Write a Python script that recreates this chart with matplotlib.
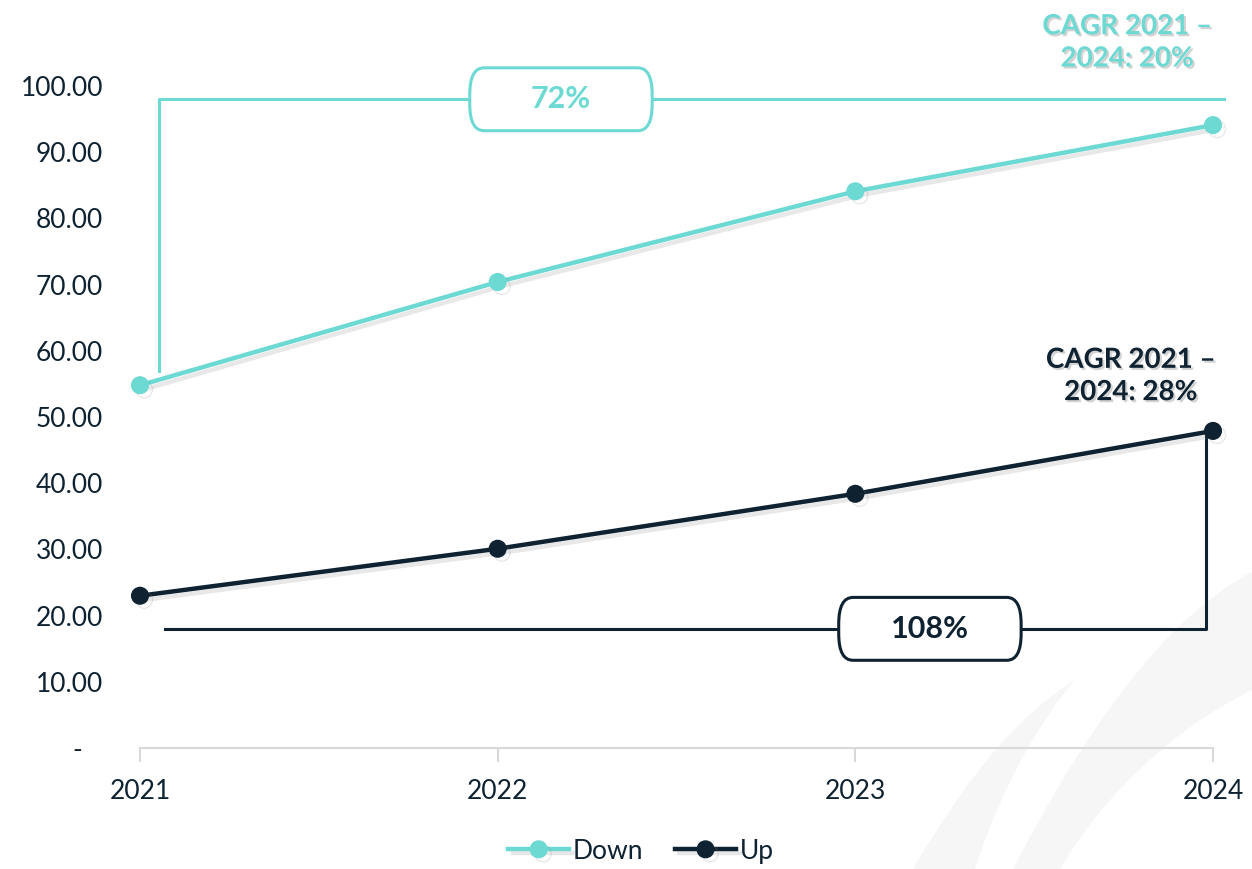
import numpy as np
import matplotlib.pyplot as plt
import matplotlib.patheffects as pe
from matplotlib.patches import FancyBboxPatch, PathPatch
from matplotlib.path import Path

plt.rcParams['font.family'] = ['Lato', 'DejaVu Sans']

years = ['2021', '2022', '2023', '2024']
down = [54.8, 70.4, 84.1, 94.1]
up = [23.0, 30.1, 38.4, 47.9]
yticks = [0, 10, 20, 30, 40, 50, 60, 70, 80, 90, 100]
ytick_labels = ['-   '] + ['%.2f' % v for v in yticks[1:]]

teal = '#6CD9D3'
navy = '#0E2231'
W, H = 1252, 869

fig = plt.figure(figsize=(W / 100, H / 100), dpi=100)

# faint background swooshes (lower right)
bg = fig.add_axes([0, 0, 1, 1], zorder=0)
bg.set_xlim(0, W)
bg.set_ylim(H, 0)
bg.axis('off')
C = Path.CURVE4
band1 = Path([(913, 869), (960, 790), (1010, 720), (1075, 680),
              (1040, 720), (1000, 790), (975, 869), (913, 869)],
             [Path.MOVETO, C, C, C, C, C, C, Path.CLOSEPOLY])
band2 = Path([(1013, 869), (1080, 740), (1160, 620), (1252, 572),
              (1252, 690), (1170, 730), (1100, 800), (1060, 869), (1013, 869)],
             [Path.MOVETO, C, C, C, Path.LINETO, C, C, C, Path.CLOSEPOLY])
bg.add_patch(PathPatch(band1, facecolor='#F6F6F6', edgecolor='none'))
bg.add_patch(PathPatch(band2, facecolor='#F6F6F6', edgecolor='none'))

ax = fig.add_axes([140 / W, (H - 748) / H, (1213 - 140) / W, 741.4 / H], zorder=1)
ax.patch.set_alpha(0)
x = np.arange(len(years))

shadow = [pe.SimpleLineShadow(offset=(3, -3), shadow_color='gray', alpha=0.18), pe.Normal()]
ax.plot(x, down, color=teal, lw=3.2, marker='o', ms=12, label='Down',
        clip_on=False, zorder=4, path_effects=shadow)
ax.plot(x, up, color=navy, lw=3.2, marker='o', ms=12, label='Up',
        clip_on=False, zorder=4, path_effects=shadow)

ax.set_xlim(0, 3)
ax.set_ylim(0, 112)
ax.set_yticks(yticks)
ax.set_yticklabels(ytick_labels)
ax.set_xticks(x)
ax.set_xticklabels(years)
for s in ['top', 'right', 'left']:
    ax.spines[s].set_visible(False)
ax.spines['bottom'].set_color('#D9D9D9')
ax.spines['bottom'].set_linewidth(1.5)
ax.tick_params(axis='y', length=0, pad=26.5, labelsize=19, labelcolor=navy)
ax.tick_params(axis='x', length=10, width=1.5, color='#D9D9D9', pad=12,
               labelsize=19, labelcolor=navy)

# growth brackets
ax.plot([0.053, 0.053, 3.03], [57, 98, 98], color=teal, lw=2.2, zorder=2, clip_on=False)
ax.plot([0.07, 2.98, 2.98], [18, 18, up[-1]], color=navy, lw=2.2, zorder=2, clip_on=False)


def box(xc, yc, text, col):
    w, h = 0.51, 9.5
    ax.add_patch(FancyBboxPatch((xc - w / 2, yc - h / 2), w, h,
                                boxstyle='round,pad=0,rounding_size=0.04',
                                mutation_aspect=100,
                                facecolor='white', edgecolor=col, lw=2.2, zorder=3))
    ax.text(xc, yc, text, color=col, fontsize=22, fontweight='bold',
            ha='center', va='center', zorder=5)


box((561 - 140) / 357.7, 98, '72%', teal)
box((930 - 140) / 357.7, 18, '108%', navy)

txt_shadow = [pe.withSimplePatchShadow(offset=(1.5, -1.5), shadow_rgbFace='gray', alpha=0.35)]
ax.text(2.76, 106.6, 'CAGR 2021 \u2013\n2024: 20%', color=teal, fontsize=20,
        fontweight='bold', ha='center', va='center', linespacing=1.3,
        path_effects=txt_shadow, zorder=5)
ax.text(2.77, 56.2, 'CAGR 2021 \u2013\n2024: 28%', color=navy, fontsize=20,
        fontweight='bold', ha='center', va='center', linespacing=1.3,
        path_effects=txt_shadow, zorder=5)

ax.legend(loc='center', bbox_to_anchor=(0.467, -0.139), ncol=2, frameon=False,
          fontsize=19, handlelength=2.3, handletextpad=0.15, columnspacing=1.2,
          labelcolor=navy)

fig.savefig('out.png', dpi=100)
